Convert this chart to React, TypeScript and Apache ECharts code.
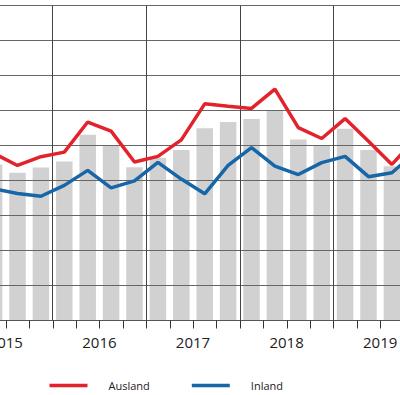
import React, { useEffect, useRef } from "react";
import * as echarts from "echarts";

const quarters = [
  "2015Q1", "2015Q2", "2015Q3", "2015Q4",
  "2016Q1", "2016Q2", "2016Q3", "2016Q4",
  "2017Q1", "2017Q2", "2017Q3", "2017Q4",
  "2018Q1", "2018Q2", "2018Q3", "2018Q4",
  "2019Q1", "2019Q2", "2019Q3", "2019Q4",
];
const years = ["2015", "2016", "2017", "2018", "2019"];

const total = [null, 44.6, 42.2, 43.7, 45.4, 53.1, 50.1, 43.8, 46.5, 48.7, 54.9, 56.7, 57.6, 60.1, 51.7, 50.1, 54.8, 48.7, 44.1, 46.0];
const ausland = [null, 47.7, 44.3, 46.8, 48.1, 56.7, 54.1, 45.3, 46.9, 51.6, 61.9, 61.2, 60.6, 66.1, 55.1, 52.0, 57.7, 51.2, 44.6, 51.8];
const inland = [null, 37.6, 36.3, 35.5, 38.6, 42.9, 37.9, 39.9, 45.2, 40.4, 36.2, 44.3, 49.4, 44.1, 41.7, 45.1, 46.9, 41.1, 42.2, 48.0];

const RED = "#e3232b";
const BLUE = "#1766a8";
const FONT = "'Open Sans', 'Noto Sans', sans-serif";
const SHIFT = 41.5;
const FULL_W = 468;

export default function App() {
  const ref = useRef<HTMLDivElement>(null);
  useEffect(() => {
    if (!ref.current) return;
    const chart = echarts.init(ref.current, null, { renderer: "svg" });
    chart.setOption({
      animation: false,
      backgroundColor: "#ffffff",
      grid: { left: 0, right: 0, top: 5.5, bottom: 74.5, containLabel: false },
      legend: {
        data: ["Ausland", "Inland"],
        left: 44 + SHIFT,
        top: 375,
        icon: "rect",
        itemWidth: 38,
        itemHeight: 3.5,
        itemGap: 42,
        textStyle: { fontFamily: FONT, fontSize: 11, color: "#222", padding: [0, 0, 0, 16] },
      },
      xAxis: [
        {
          type: "category",
          data: years,
          position: "bottom",
          boundaryGap: true,
          axisLine: { show: false },
          axisTick: { show: false },
          splitLine: { show: false },
          axisLabel: { show: true, margin: 14, fontFamily: FONT, fontSize: 15, color: "#222" },
        },
        {
          type: "category",
          data: quarters,
          position: "bottom",
          boundaryGap: true,
          z: 3,
          axisLine: { show: true, onZero: false, lineStyle: { color: "#555", width: 1 } },
          axisTick: { show: false },
          axisLabel: { show: false },
          splitLine: {
            show: true,
            interval: (i: number) => i % 4 === 0,
            lineStyle: { color: "#444", width: 1 },
          },
        },
      ],
      yAxis: {
        type: "value",
        min: 0,
        max: 90,
        interval: 10,
        z: 3,
        axisLine: { show: false },
        axisTick: { show: false },
        axisLabel: { show: false },
        splitLine: { show: true, lineStyle: { color: "#666", width: 1 } },
      },
      series: [
        {
          name: "Gesamt",
          type: "bar",
          xAxisIndex: 1,
          data: total,
          barWidth: 16.5,
          itemStyle: { color: "#d1d1d1" },
          z: 1,
        },
        {
          name: "Ausland",
          type: "line",
          xAxisIndex: 1,
          data: ausland,
          symbol: "none",
          lineStyle: { color: RED, width: 3.5 },
          itemStyle: { color: RED },
          z: 5,
        },
        {
          name: "Inland",
          type: "line",
          xAxisIndex: 1,
          data: inland,
          symbol: "none",
          lineStyle: { color: BLUE, width: 3.5 },
          itemStyle: { color: BLUE },
          z: 5,
        },
        {
          // quarter tick marks below the axis line
          name: "ticks",
          type: "custom",
          xAxisIndex: 1,
          clip: false,
          silent: true,
          z: 6,
          data: quarters.map((_, i) => [i, 0]),
          renderItem: (_params: any, api: any) => {
            const p = api.coord([api.value(0), 0]);
            const w = api.size([1, 0])[0];
            const x = Math.round(p[0] - w / 2) + 0.5;
            return {
              type: "line",
              shape: { x1: x, y1: p[1], x2: x, y2: p[1] + 8 },
              style: { stroke: "#333", lineWidth: 1 },
            };
          },
        },
      ],
    });
    return () => chart.dispose();
  }, []);
  return (
    <div style={{ position: "fixed", left: 0, top: 0, width: 400, height: 395, overflow: "hidden", background: "#fff" }}>
      <div ref={ref} style={{ position: "absolute", left: -SHIFT, top: 0, width: FULL_W, height: 395 }} />
    </div>
  );
}
